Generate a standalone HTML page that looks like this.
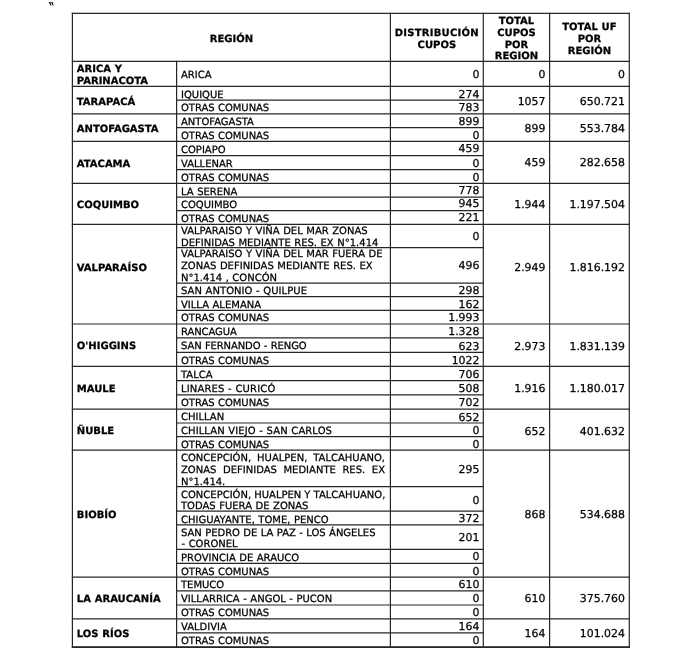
<!DOCTYPE html>
<html lang="es">
<head>
<meta charset="utf-8">
<title>Distribución de cupos por región</title>
<style>
html,body{margin:0;padding:0;background:#fff;}
body{width:700px;height:648px;position:relative;overflow:hidden;font-family:"DejaVu Sans","Liberation Sans",sans-serif;font-size:10px;color:#000;text-rendering:geometricPrecision;}
.g{position:absolute;left:0;top:0;}
.t{position:absolute;white-space:nowrap;line-height:11px;height:11px;-webkit-text-stroke:0.25px #000;word-spacing:0.34px;}
.b{font-weight:bold;}
.n{font-size:10.9px;}
.q{position:absolute;left:48.5px;top:0px;font-family:"DejaVu Sans",sans-serif;font-size:12px;font-weight:bold;line-height:12px;transform:scale(1,1.6);transform-origin:0 0;}
</style>
</head>
<body>
<div class="q">&#8246;</div>
<svg class="g" width="700" height="648" viewBox="0 0 700 648"><g stroke="#262626" stroke-width="1.2" fill="none">
<line x1="71.80" y1="13.40" x2="629.90" y2="13.40"/>
<line x1="71.80" y1="61.30" x2="629.90" y2="61.30"/>
<line x1="71.80" y1="86.35" x2="629.90" y2="86.35"/>
<line x1="176.00" y1="100.05" x2="483.90" y2="100.05"/>
<line x1="71.80" y1="113.80" x2="629.90" y2="113.80"/>
<line x1="176.00" y1="127.60" x2="483.90" y2="127.60"/>
<line x1="71.80" y1="141.45" x2="629.90" y2="141.45"/>
<line x1="176.00" y1="155.60" x2="483.90" y2="155.60"/>
<line x1="176.00" y1="169.70" x2="483.90" y2="169.70"/>
<line x1="71.80" y1="183.35" x2="629.90" y2="183.35"/>
<line x1="176.00" y1="197.05" x2="483.90" y2="197.05"/>
<line x1="176.00" y1="210.60" x2="483.90" y2="210.60"/>
<line x1="71.80" y1="224.30" x2="629.90" y2="224.30"/>
<line x1="176.00" y1="247.60" x2="483.90" y2="247.60"/>
<line x1="176.00" y1="283.10" x2="483.90" y2="283.10"/>
<line x1="176.00" y1="296.55" x2="483.90" y2="296.55"/>
<line x1="176.00" y1="310.30" x2="483.90" y2="310.30"/>
<line x1="71.80" y1="324.00" x2="629.90" y2="324.00"/>
<line x1="176.00" y1="337.90" x2="483.90" y2="337.90"/>
<line x1="176.00" y1="352.30" x2="483.90" y2="352.30"/>
<line x1="71.80" y1="366.30" x2="629.90" y2="366.30"/>
<line x1="176.00" y1="380.55" x2="483.90" y2="380.55"/>
<line x1="176.00" y1="394.90" x2="483.90" y2="394.90"/>
<line x1="71.80" y1="409.10" x2="629.90" y2="409.10"/>
<line x1="176.00" y1="423.00" x2="483.90" y2="423.00"/>
<line x1="176.00" y1="436.70" x2="483.90" y2="436.70"/>
<line x1="71.80" y1="450.05" x2="629.90" y2="450.05"/>
<line x1="176.00" y1="486.70" x2="483.90" y2="486.70"/>
<line x1="176.00" y1="511.15" x2="483.90" y2="511.15"/>
<line x1="176.00" y1="524.80" x2="483.90" y2="524.80"/>
<line x1="176.00" y1="549.45" x2="483.90" y2="549.45"/>
<line x1="176.00" y1="563.40" x2="483.90" y2="563.40"/>
<line x1="71.80" y1="577.10" x2="629.90" y2="577.10"/>
<line x1="176.00" y1="590.90" x2="483.90" y2="590.90"/>
<line x1="176.00" y1="605.00" x2="483.90" y2="605.00"/>
<line x1="71.80" y1="618.80" x2="629.90" y2="618.80"/>
<line x1="176.00" y1="632.90" x2="483.90" y2="632.90"/>
<rect x="71.80" y="646.20" width="558.10" height="2" fill="#262626" stroke="none"/>
<line x1="72.40" y1="12.80" x2="72.40" y2="648.00"/>
<line x1="629.30" y1="12.80" x2="629.30" y2="648.00"/>
<line x1="176.60" y1="60.70" x2="176.60" y2="648.00"/>
<line x1="390.40" y1="12.80" x2="390.40" y2="648.00"/>
<line x1="483.30" y1="12.80" x2="483.30" y2="648.00"/>
<line x1="549.60" y1="12.80" x2="549.60" y2="648.00"/>
</g></svg>
<div class="t b" style="left:81.40px;width:300px;text-align:center;top:34px;">REGIÓN</div>
<div class="t b" style="left:286.85px;width:300px;text-align:center;top:28px;letter-spacing:0.24px;">DISTRIBUCIÓN</div>
<div class="t b" style="left:286.85px;width:300px;text-align:center;top:40px;">CUPOS</div>
<div class="t b" style="left:366.45px;width:300px;text-align:center;top:16px;">TOTAL</div>
<div class="t b" style="left:366.45px;width:300px;text-align:center;top:28px;">CUPOS</div>
<div class="t b" style="left:366.45px;width:300px;text-align:center;top:40px;">POR</div>
<div class="t b" style="left:366.45px;width:300px;text-align:center;top:51px;">REGION</div>
<div class="t b" style="left:439.45px;width:300px;text-align:center;top:22px;">TOTAL UF</div>
<div class="t b" style="left:439.45px;width:300px;text-align:center;top:34px;">POR</div>
<div class="t b" style="left:439.45px;width:300px;text-align:center;top:46px;">REGIÓN</div>
<div class="t b" style="left:76.80px;top:64px;">ARICA Y</div>
<div class="t b" style="left:76.80px;top:76px;">PARINACOTA</div>
<div class="t n" style="right:154.60px;top:69px;">0</div>
<div class="t n" style="right:75.10px;top:69px;">0</div>
<div class="t b" style="left:76.80px;top:97px;">TARAPACÁ</div>
<div class="t n" style="right:154.60px;top:96px;">1057</div>
<div class="t n" style="right:75.10px;top:96px;">650.721</div>
<div class="t b" style="left:76.80px;top:124px;">ANTOFAGASTA</div>
<div class="t n" style="right:154.60px;top:123px;">899</div>
<div class="t n" style="right:75.10px;top:123px;">553.784</div>
<div class="t b" style="left:76.80px;top:159px;">ATACAMA</div>
<div class="t n" style="right:154.60px;top:157px;">459</div>
<div class="t n" style="right:75.10px;top:157px;">282.658</div>
<div class="t b" style="left:76.80px;top:200px;">COQUIMBO</div>
<div class="t n" style="right:154.60px;top:199px;">1.944</div>
<div class="t n" style="right:75.10px;top:199px;">1.197.504</div>
<div class="t b" style="left:76.80px;top:263px;">VALPARAÍSO</div>
<div class="t n" style="right:154.60px;top:262px;">2.949</div>
<div class="t n" style="right:75.10px;top:262px;">1.816.192</div>
<div class="t b" style="left:76.80px;top:341px;">O'HIGGINS</div>
<div class="t n" style="right:154.60px;top:341px;">2.973</div>
<div class="t n" style="right:75.10px;top:341px;">1.831.139</div>
<div class="t b" style="left:76.80px;top:384px;">MAULE</div>
<div class="t n" style="right:154.60px;top:383px;">1.916</div>
<div class="t n" style="right:75.10px;top:383px;">1.180.017</div>
<div class="t b" style="left:76.80px;top:426px;">ÑUBLE</div>
<div class="t n" style="right:154.60px;top:426px;">652</div>
<div class="t n" style="right:75.10px;top:426px;">401.632</div>
<div class="t b" style="left:76.80px;top:510px;">BIOBÍO</div>
<div class="t n" style="right:154.60px;top:509px;">868</div>
<div class="t n" style="right:75.10px;top:509px;">534.688</div>
<div class="t b" style="left:76.80px;top:594px;">LA ARAUCANÍA</div>
<div class="t n" style="right:154.60px;top:593px;">610</div>
<div class="t n" style="right:75.10px;top:593px;">375.760</div>
<div class="t b" style="left:76.80px;top:629px;">LOS RÍOS</div>
<div class="t n" style="right:154.60px;top:628px;">164</div>
<div class="t n" style="right:75.10px;top:628px;">101.024</div>
<div class="t" style="left:181.00px;top:70px;">ARICA</div>
<div class="t n" style="right:220.60px;top:69px;">0</div>
<div class="t" style="left:181.00px;top:90px;">IQUIQUE</div>
<div class="t n" style="right:220.60px;top:89px;">274</div>
<div class="t" style="left:181.00px;top:103px;letter-spacing:-0.04px;">OTRAS COMUNAS</div>
<div class="t n" style="right:220.60px;top:102px;">783</div>
<div class="t" style="left:181.00px;top:117px;">ANTOFAGASTA</div>
<div class="t n" style="right:220.60px;top:116px;">899</div>
<div class="t" style="left:181.00px;top:131px;letter-spacing:-0.04px;">OTRAS COMUNAS</div>
<div class="t n" style="right:220.60px;top:130px;">0</div>
<div class="t" style="left:181.00px;top:145px;">COPIAPO</div>
<div class="t n" style="right:220.60px;top:143px;">459</div>
<div class="t" style="left:181.00px;top:159px;">VALLENAR</div>
<div class="t n" style="right:220.60px;top:158px;">0</div>
<div class="t" style="left:181.00px;top:173px;letter-spacing:-0.04px;">OTRAS COMUNAS</div>
<div class="t n" style="right:220.60px;top:172px;">0</div>
<div class="t" style="left:181.00px;top:187px;">LA SERENA</div>
<div class="t n" style="right:220.60px;top:185px;">778</div>
<div class="t" style="left:181.00px;top:200px;">COQUIMBO</div>
<div class="t n" style="right:220.60px;top:198px;">945</div>
<div class="t" style="left:181.00px;top:214px;letter-spacing:-0.04px;">OTRAS COMUNAS</div>
<div class="t n" style="right:220.60px;top:212px;">221</div>
<div class="t" style="left:181.00px;top:226px;">VALPARAISO Y VIÑA DEL MAR ZONAS</div>
<div class="t" style="left:181.00px;top:238px;">DEFINIDAS MEDIANTE RES. EX N°1.414</div>
<div class="t n" style="right:220.60px;top:231px;">0</div>
<div class="t" style="left:181.00px;top:249px;">VALPARAISO Y VIÑA DEL MAR FUERA DE</div>
<div class="t" style="left:181.00px;top:261px;">ZONAS DEFINIDAS MEDIANTE RES. EX</div>
<div class="t" style="left:181.00px;top:273px;">N°1.414 , CONCÓN</div>
<div class="t n" style="right:220.60px;top:260px;">496</div>
<div class="t" style="left:181.00px;top:286px;letter-spacing:0.05px;">SAN ANTONIO - QUILPUE</div>
<div class="t n" style="right:220.60px;top:285px;">298</div>
<div class="t" style="left:181.00px;top:300px;">VILLA ALEMANA</div>
<div class="t n" style="right:220.60px;top:299px;">162</div>
<div class="t" style="left:181.00px;top:313px;letter-spacing:-0.04px;">OTRAS COMUNAS</div>
<div class="t n" style="right:220.60px;top:312px;">1.993</div>
<div class="t" style="left:181.00px;top:327px;letter-spacing:-0.1px;">RANCAGUA</div>
<div class="t n" style="right:220.60px;top:326px;">1.328</div>
<div class="t" style="left:181.00px;top:341px;letter-spacing:-0.11px;">SAN FERNANDO - RENGO</div>
<div class="t n" style="right:220.60px;top:341px;">623</div>
<div class="t" style="left:181.00px;top:356px;letter-spacing:-0.04px;">OTRAS COMUNAS</div>
<div class="t n" style="right:220.60px;top:355px;">1022</div>
<div class="t" style="left:181.00px;top:370px;">TALCA</div>
<div class="t n" style="right:220.60px;top:369px;">706</div>
<div class="t" style="left:181.00px;top:384px;letter-spacing:0.14px;">LINARES - CURICÓ</div>
<div class="t n" style="right:220.60px;top:383px;">508</div>
<div class="t" style="left:181.00px;top:398px;letter-spacing:-0.04px;">OTRAS COMUNAS</div>
<div class="t n" style="right:220.60px;top:397px;">702</div>
<div class="t" style="left:181.00px;top:412px;">CHILLAN</div>
<div class="t n" style="right:220.60px;top:412px;">652</div>
<div class="t" style="left:181.00px;top:426px;letter-spacing:0.085px;">CHILLAN VIEJO - SAN CARLOS</div>
<div class="t n" style="right:220.60px;top:425px;">0</div>
<div class="t" style="left:181.00px;top:440px;letter-spacing:-0.04px;">OTRAS COMUNAS</div>
<div class="t n" style="right:220.60px;top:439px;">0</div>
<div class="t" style="left:181.00px;top:453px;word-spacing:2.75px;">CONCEPCIÓN, HUALPEN, TALCAHUANO,</div>
<div class="t" style="left:181.00px;top:465px;word-spacing:3.43px;">ZONAS DEFINIDAS MEDIANTE RES. EX</div>
<div class="t" style="left:181.00px;top:477px;">N°1.414.</div>
<div class="t n" style="right:220.60px;top:464px;">295</div>
<div class="t" style="left:181.00px;top:490px;word-spacing:-0.1px;">CONCEPCIÓN, HUALPEN Y TALCAHUANO,</div>
<div class="t" style="left:181.00px;top:501px;">TODAS FUERA DE ZONAS</div>
<div class="t n" style="right:220.60px;top:495px;">0</div>
<div class="t" style="left:181.00px;top:515px;">CHIGUAYANTE, TOME, PENCO</div>
<div class="t n" style="right:220.60px;top:513px;">372</div>
<div class="t" style="left:181.00px;top:528px;letter-spacing:-0.04px;">SAN PEDRO DE LA PAZ - LOS ÁNGELES</div>
<div class="t" style="left:181.50px;top:539px;">- CORONEL</div>
<div class="t n" style="right:220.60px;top:532px;">201</div>
<div class="t" style="left:181.00px;top:553px;">PROVINCIA DE ARAUCO</div>
<div class="t n" style="right:220.60px;top:551px;">0</div>
<div class="t" style="left:181.00px;top:567px;letter-spacing:-0.04px;">OTRAS COMUNAS</div>
<div class="t n" style="right:220.60px;top:566px;">0</div>
<div class="t" style="left:181.00px;top:580px;">TEMUCO</div>
<div class="t n" style="right:220.60px;top:579px;">610</div>
<div class="t" style="left:181.00px;top:594px;">VILLARRICA - ANGOL - PUCON</div>
<div class="t n" style="right:220.60px;top:593px;">0</div>
<div class="t" style="left:181.00px;top:608px;letter-spacing:-0.04px;">OTRAS COMUNAS</div>
<div class="t n" style="right:220.60px;top:607px;">0</div>
<div class="t" style="left:181.00px;top:622px;">VALDIVIA</div>
<div class="t n" style="right:220.60px;top:621px;">164</div>
<div class="t" style="left:181.00px;top:636px;letter-spacing:-0.04px;">OTRAS COMUNAS</div>
<div class="t n" style="right:220.60px;top:635px;">0</div>
</body>
</html>
